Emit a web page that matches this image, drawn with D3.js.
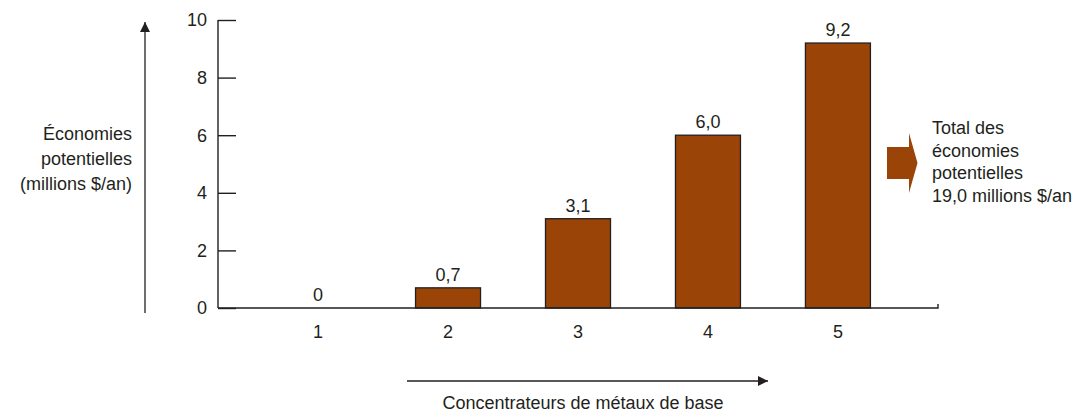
<!DOCTYPE html>
<html><head><meta charset="utf-8">
<script src="https://cdn.jsdelivr.net/npm/d3@7"></script>
<style>
body{margin:0;background:#fff;}
text{font-family:"Liberation Sans",Arial,sans-serif;fill:#231f20;}
</style></head>
<body><svg id="c" width="1083" height="413"></svg>
<script>
const categories = ["1","2","3","4","5"];
const values = [0, 0.7, 3.1, 6.0, 9.2];
const valueLabels = ["0","0,7","3,1","6,0","9,2"];
const yTicks = [0,2,4,6,8,10];
const yTitle = ["Économies","potentielles","(millions $/an)"];
const xTitle = "Concentrateurs de métaux de base";
const totalText = ["Total des","économies","potentielles","19,0 millions $/an"];

const svg = d3.select("#c");
const x = d3.scaleBand().domain(categories).range([218, 938]).paddingInner(0.5).paddingOuter(0.52);
const y = d3.scaleLinear().domain([0,10]).range([308, 20]);
const fs = 18;
const color = "#9a4507";

// y axis
const ya = svg.append("g").attr("transform","translate(218,0)")
  .call(d3.axisRight(y).tickValues(yTicks).tickSize(18).tickFormat(""));
ya.select(".domain").attr("d","M0,"+y(10)+"V"+y(0)).attr("stroke","#231f20").attr("stroke-width",1.4);
ya.selectAll(".tick line").attr("stroke","#231f20").attr("stroke-width",1.4);
svg.append("g").selectAll("text").data(yTicks).join("text")
  .attr("x",207).attr("y",d=>y(d)).attr("dy","0.35em").attr("text-anchor","end")
  .attr("font-size",fs).text(d=>d);

// bars
svg.append("g").selectAll("rect").data(values).join("rect")
  .attr("x",(d,i)=>x(categories[i])).attr("width",x.bandwidth())
  .attr("y",d=>y(d)).attr("height",d=>y(0)-y(d))
  .attr("fill",color).attr("stroke","#231f20").attr("stroke-width",1.3);

// x axis baseline
svg.append("path").attr("d","M218,"+y(0)+"H938V"+(y(0)-4)).attr("fill","none")
  .attr("stroke","#231f20").attr("stroke-width",1.4);
svg.append("g").selectAll("text").data(categories).join("text")
  .attr("x",d=>x(d)+x.bandwidth()/2).attr("y",332).attr("dy","0.35em").attr("text-anchor","middle")
  .attr("font-size",fs).text(d=>d);

// value labels
svg.append("g").selectAll("text").data(values).join("text")
  .attr("x",(d,i)=>x(categories[i])+x.bandwidth()/2).attr("y",d=>y(d)-7)
  .attr("text-anchor","middle").attr("font-size",fs).text((d,i)=>valueLabels[i]);

// arrows
const defs = svg.append("defs");
defs.append("marker").attr("id","ah").attr("viewBox","0 0 10 10").attr("refX",10).attr("refY",5)
  .attr("markerWidth",10).attr("markerHeight",10).attr("markerUnits","userSpaceOnUse").attr("orient","auto")
  .append("path").attr("d","M0,0L10,5L0,10Z").attr("fill","#231f20");
svg.append("line").attr("x1",145).attr("x2",145).attr("y1",313).attr("y2",22)
  .attr("stroke","#231f20").attr("stroke-width",1.3).attr("marker-end","url(#ah)");
svg.append("line").attr("x1",407).attr("x2",768).attr("y1",381).attr("y2",381)
  .attr("stroke","#231f20").attr("stroke-width",1.3).attr("marker-end","url(#ah)");

// y title
svg.append("text").attr("x",132).attr("y",140).attr("text-anchor","end").attr("font-size",fs)
  .selectAll("tspan").data(yTitle).join("tspan").attr("x",132).attr("dy",(d,i)=>i?25:0).text(d=>d);
// x title
svg.append("text").attr("x",583).attr("y",409).attr("text-anchor","middle").attr("font-size",fs).text(xTitle);

// total block arrow
svg.append("path").attr("d","M887,147H909V133L917.5,163L909,193V179H887Z").attr("fill",color);
svg.append("text").attr("x",932).attr("y",134).attr("font-size",fs)
  .selectAll("tspan").data(totalText).join("tspan").attr("x",932).attr("dy",(d,i)=>i?22.5:0).text(d=>d);
</script></body></html>
